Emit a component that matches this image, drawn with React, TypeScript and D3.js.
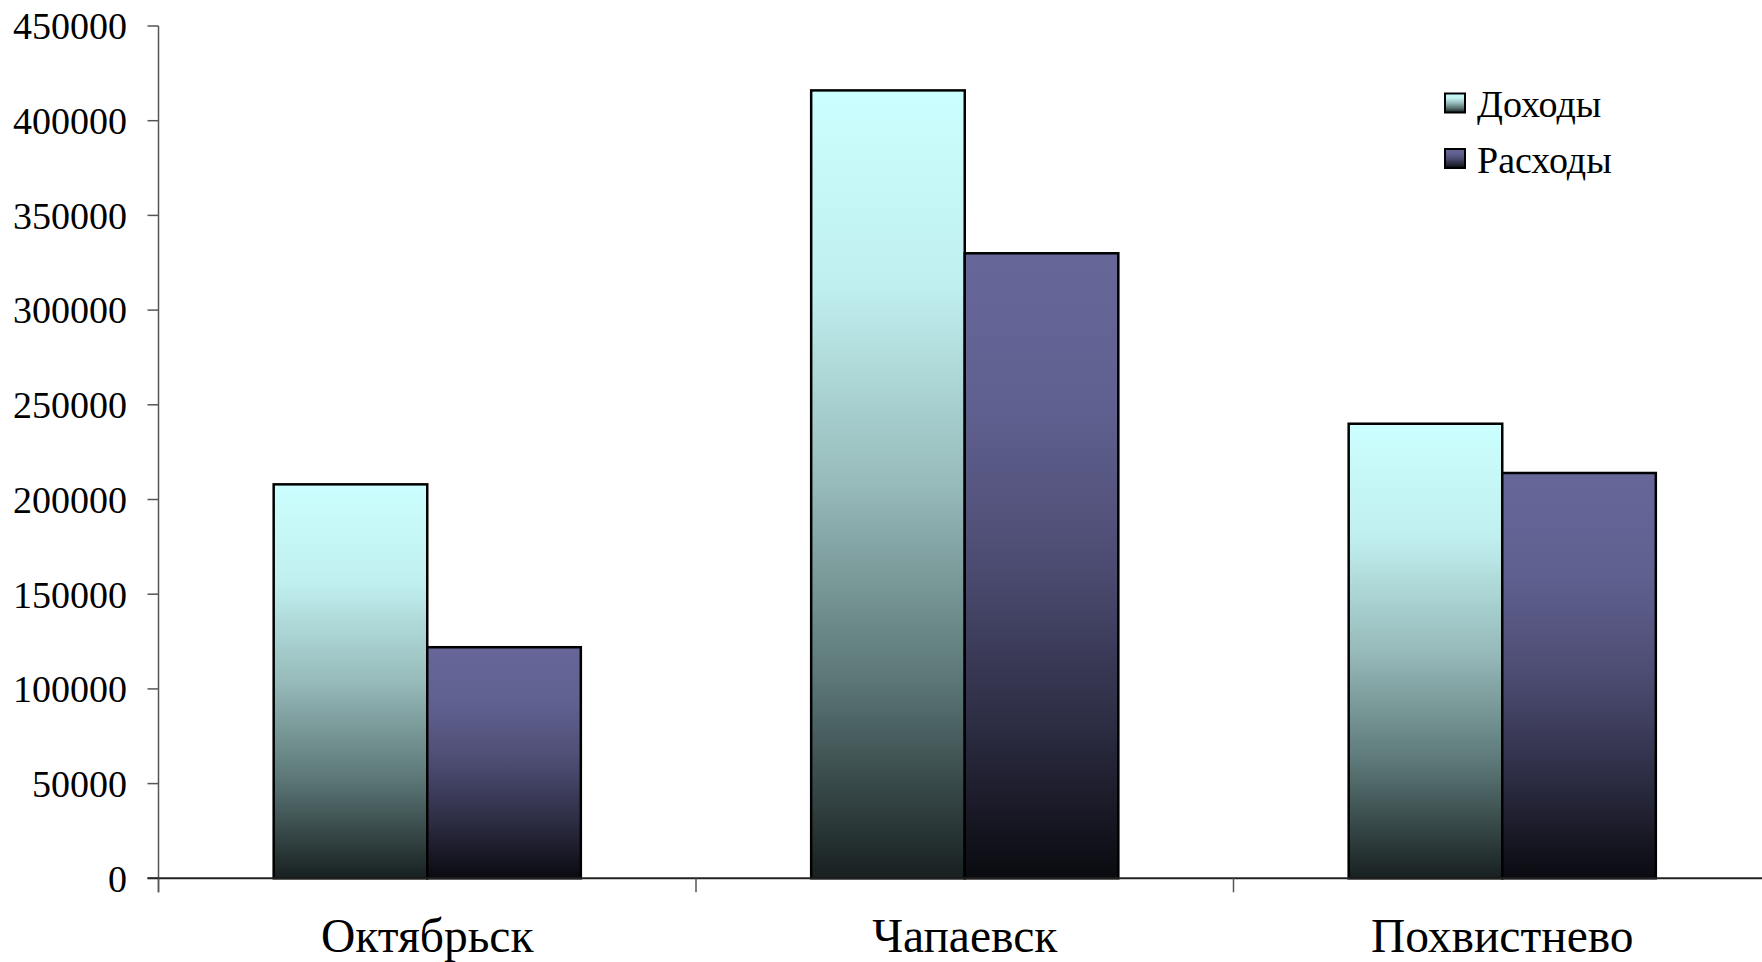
import React from "react";
import * as d3 from "d3";

const categories = ["Октябрьск", "Чапаевск", "Похвистнево"];
const seriesNames = ["Доходы", "Расходы"];
const incomeValues = [208000, 416000, 240000];
const expenseValues = [122000, 330000, 214000];
const yTicks = [0, 50000, 100000, 150000, 200000, 250000, 300000, 350000, 400000, 450000];

const W = 1762;
const H = 962;
const FONT = "'Liberation Serif', 'Times New Roman', serif";

export default function App() {
  const axisX = 158.5;
  const step = 537.5;
  const y0 = 878.3;
  const yTop = 26;

  const x0 = d3.scaleBand<string>().domain(categories).range([axisX, axisX + step * categories.length]).paddingInner(0).paddingOuter(0);
  const x1 = d3.scaleBand<string>().domain(seriesNames).range([0, x0.bandwidth()]).paddingInner(0).paddingOuter(0.75);
  const y = d3.scaleLinear().domain([0, 450000]).range([y0, yTop]);

  const seriesData = [incomeValues, expenseValues];
  const gradIds = ["gInc", "gExp"];

  const boundaries = d3.range(categories.length + 1).map((i) => axisX + i * step);

  return (
    <div style={{ position: "fixed", left: 0, top: 0 }}>
      <svg width={W} height={H} style={{ display: "block", background: "#fff" }}>
        <defs>
          <linearGradient id="gInc" x1="0" y1="0" x2="0" y2="1">
            <stop offset="0" stopColor="#ccffff" />
            <stop offset="0.25" stopColor="#c0efef" />
            <stop offset="0.5" stopColor="#97baba" />
            <stop offset="0.75" stopColor="#5b7676" />
            <stop offset="1" stopColor="#182020" />
          </linearGradient>
          <linearGradient id="gExp" x1="0" y1="0" x2="0" y2="1">
            <stop offset="0" stopColor="#666699" />
            <stop offset="0.25" stopColor="#606090" />
            <stop offset="0.5" stopColor="#4c4c72" />
            <stop offset="0.75" stopColor="#2d2d44" />
            <stop offset="1" stopColor="#0a0a10" />
          </linearGradient>
        </defs>

        {/* y-axis ticks and labels */}
        {yTicks.map((t) => (
          <g key={t}>
            <line x1={axisX - 11} x2={axisX} y1={y(t)} y2={y(t)} stroke="#555" strokeWidth={1.5} />
            <text x={127} y={y(t)} dy="0.35em" textAnchor="end" fontFamily={FONT} fontSize={38} fill="#000">
              {t}
            </text>
          </g>
        ))}

        {/* bars */}
        {seriesData.map((vals, si) =>
          vals.map((v, ci) => {
            const bx = (x0(categories[ci]) ?? 0) + (x1(seriesNames[si]) ?? 0);
            return (
              <rect
                key={`${si}-${ci}`}
                x={bx}
                y={y(v)}
                width={x1.bandwidth()}
                height={y0 - y(v)}
                fill={`url(#${gradIds[si]})`}
                stroke="#000"
                strokeWidth={2.5}
              />
            );
          })
        )}

        {/* y axis line */}
        <line x1={axisX} x2={axisX} y1={yTop} y2={y0 + 14} stroke="#555" strokeWidth={1.5} />
        {/* x axis line */}
        <line x1={axisX - 11} x2={W} y1={y0} y2={y0} stroke="#222" strokeWidth={2} />
        {boundaries.map((b, i) => (
          <line key={i} x1={b} x2={b} y1={y0} y2={y0 + 14} stroke="#555" strokeWidth={1.5} />
        ))}

        {/* category labels */}
        {categories.map((c) => (
          <text
            key={c}
            x={(x0(c) ?? 0) + x0.bandwidth() / 2}
            y={952}
            textAnchor="middle"
            fontFamily={FONT}
            fontSize={47.5}
            fill="#000"
          >
            {c}
          </text>
        ))}

        {/* legend */}
        {seriesNames.map((s, i) => (
          <g key={s} transform={`translate(1445, ${93.5 + i * 55.5})`}>
            <rect x={0} y={0} width={20} height={19} fill={`url(#${gradIds[i]})`} stroke="#000" strokeWidth={2} />
            <text x={32} y={23.5} fontFamily={FONT} fontSize={38} fill="#000">
              {s}
            </text>
          </g>
        ))}
      </svg>
    </div>
  );
}
